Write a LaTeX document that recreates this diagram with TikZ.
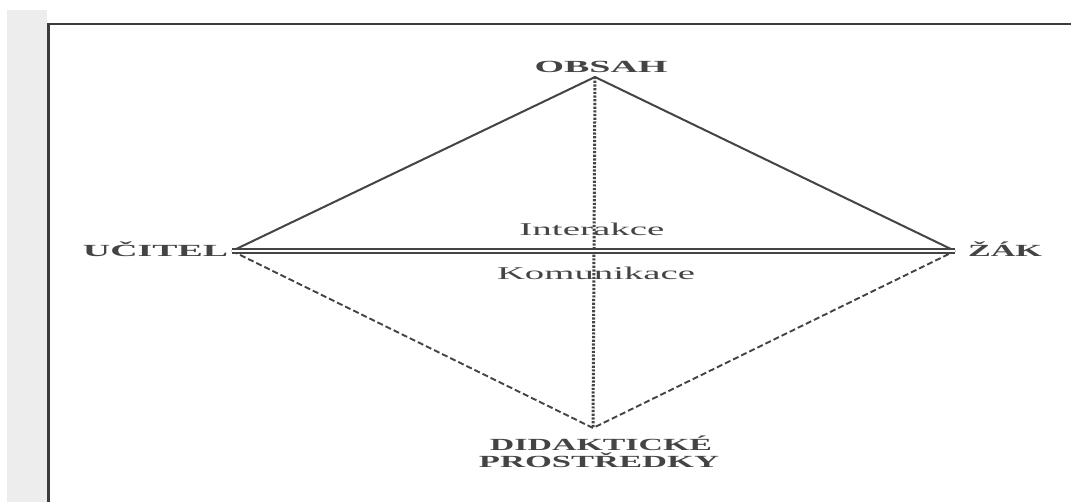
\documentclass[tikz,border=0pt]{standalone}
\usepackage{fontspec}
\setmainfont{Liberation Serif}
\definecolor{ink}{HTML}{444444}
\definecolor{frameink}{HTML}{3C3C3C}
\newcommand{\wfit}[2]{\resizebox{#1}{\height}{#2}}
\tikzset{
  lbl/.style={inner sep=0pt, anchor=base, text=ink, font=\bfseries\fontsize{17}{17}\selectfont},
  mid/.style={inner sep=0pt, anchor=base, text=ink, font=\fontsize{18}{18}\selectfont},
  solidedge/.style={draw=ink, line width=2pt},
  dashededge/.style={draw=ink, line width=1.9pt, dash pattern=on 6pt off 3pt},
  dottededge/.style={draw=ink, line width=3pt, dash pattern=on 2.2pt off 1.5pt},
  dbl/.style={draw=ink, double=white, double distance=2.2pt, line width=1.6pt},
  framestyle/.style={draw=frameink}
}
\begin{document}
\begin{tikzpicture}[x=1pt,y=-1pt]
\useasboundingbox (0,0) rectangle (1071,502);
\fill[white] (0,0) rectangle (1071,502);
\fill[black!7] (7,10) rectangle (47,502);
% frame
\coordinate (FL) at (47,24);
\coordinate (FR) at (1071,24);
\coordinate (FT) at (48,23);
\coordinate (FB) at (48,502);
\draw[framestyle, line width=2.2pt] (FL) -- (FR);
\draw[framestyle, line width=3pt] (FT) -- (FB);
% vertices
\coordinate (T) at (595,77);
\coordinate (L) at (232,251);
\coordinate (R) at (955,251);
\coordinate (B) at (593,428);
% edges
\draw[dottededge] (T) -- (B);
\draw[solidedge] (L) -- (T) -- (R);
\draw[dashededge] (L) -- (B) -- (R);
\draw[dbl] (L) -- (R);
% labels
\node[lbl] (obsah) at (601,73) {\wfit{133pt}{OBSAH}};
\node[lbl] (ucitel) at (155.5,257) {\wfit{145pt}{UČITEL}};
\node[lbl] (zak) at (1005,257) {\wfit{74pt}{ŽÁK}};
\node[lbl] (did) at (601,450) {\wfit{222pt}{DIDAKTICKÉ}};
\node[lbl] (pro) at (599,467) {\wfit{240pt}{PROSTŘEDKY}};
\node[mid] (inter) at (592,236) {\wfit{145pt}{Interakce}};
\node[mid] (komu) at (596,280) {\wfit{198pt}{Komunikace}};
\end{tikzpicture}
\end{document}
